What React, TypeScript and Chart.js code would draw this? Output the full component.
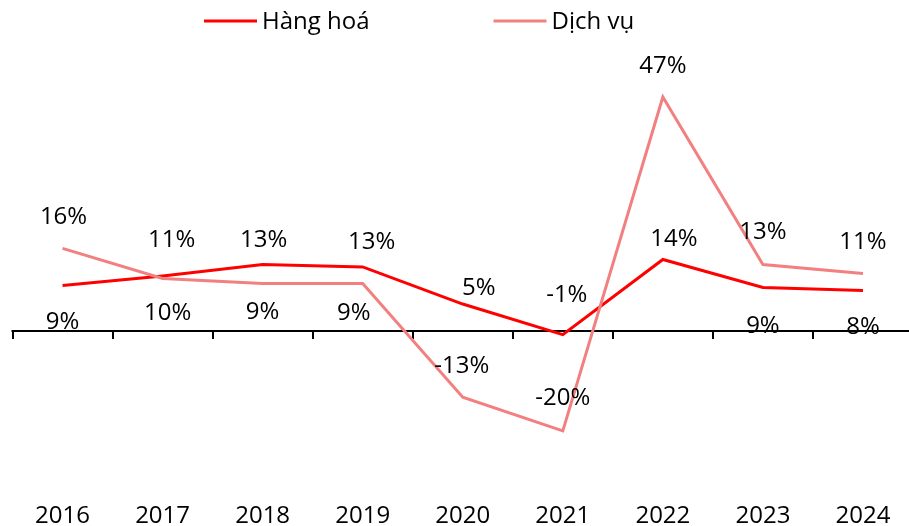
import React, { useEffect, useRef } from "react";
import { Chart, registerables } from "chart.js";

Chart.register(...registerables);

const categories = ["2016", "2017", "2018", "2019", "2020", "2021", "2022", "2023", "2024"];
const hangHoa = [9.0, 10.9, 13.2, 12.7, 5.3, -0.8, 14.2, 8.6, 8.0];
const dichVu = [16.4, 10.4, 9.4, 9.4, -13.3, -20.0, 46.6, 13.2, 11.4];
const seriesNames = ["Hàng hoá", "Dịch vụ"];

// label offsets (label centre relative to point), styling only
const hangHoaLabelDx = [0, 9, 1, 9, 16, 4, 11, 0, 0];
const hangHoaLabelDy = [35, -37, -26, -26, -18, -41, -22, 37, 35];
const dichVuLabelDx = [1, 5, 0, -9, -1, 0, 0, 0, 0];
const dichVuLabelDy = [-33, 33, 27, 28, -33, -34, -33, -34, -33];

const FONT = "'Open Sans', 'Noto Sans', sans-serif";
const RED = "#FF0000";
const PINK = "#F28080";

const zeroAxisPlugin = {
  id: "zeroAxis",
  beforeDatasetsDraw(chart: any) {
    const { ctx, scales, chartArea } = chart;
    const y0 = Math.round(scales.y.getPixelForValue(0));
    const xs = scales.x;
    const n = categories.length;
    const half = (xs.getPixelForValue(1) - xs.getPixelForValue(0)) / 2;
    ctx.save();
    ctx.strokeStyle = "#000";
    ctx.lineWidth = 2;
    ctx.beginPath();
    ctx.moveTo(chartArea.left - 1, y0);
    ctx.lineTo(chart.width, y0);
    ctx.stroke();
    for (let i = 0; i <= n; i++) {
      const x = Math.round(xs.getPixelForValue(0) - half + i * 2 * half);
      ctx.beginPath();
      ctx.moveTo(x, y0);
      ctx.lineTo(x, y0 + 8);
      ctx.stroke();
    }
    ctx.restore();
  },
};

const labelsPlugin = {
  id: "valueLabels",
  afterDatasetsDraw(chart: any) {
    const { ctx } = chart;
    const offsets = [
      [hangHoaLabelDx, hangHoaLabelDy],
      [dichVuLabelDx, dichVuLabelDy],
    ];
    ctx.save();
    ctx.font = `24px ${FONT}`;
    ctx.fillStyle = "#000";
    ctx.textAlign = "center";
    ctx.textBaseline = "alphabetic";
    chart.data.datasets.forEach((ds: any, di: number) => {
      const meta = chart.getDatasetMeta(di);
      meta.data.forEach((pt: any, i: number) => {
        const v = ds.data[i];
        const txt = `${Math.round(v)}%`;
        const x = pt.x + offsets[di][0][i];
        const y = pt.y + offsets[di][1][i] + 8.5;
        ctx.fillText(txt, x, y);
      });
    });
    ctx.restore();
  },
};

const legendPlugin = {
  id: "customLegend",
  afterDraw(chart: any) {
    const { ctx } = chart;
    ctx.save();
    ctx.font = `24px ${FONT}`;
    ctx.textBaseline = "alphabetic";
    ctx.textAlign = "left";
    let x = 204;
    const yLine = 21;
    chart.data.datasets.forEach((ds: any) => {
      ctx.strokeStyle = ds.borderColor;
      ctx.lineWidth = 3;
      ctx.beginPath();
      ctx.moveTo(x, yLine);
      ctx.lineTo(x + 53, yLine);
      ctx.stroke();
      ctx.fillStyle = "#000";
      const tx = x + 58;
      ctx.fillText(ds.label, tx, 29);
      x = tx + ctx.measureText(ds.label).width + 124;
    });
    ctx.restore();
  },
};

export default function App() {
  const canvasRef = useRef<HTMLCanvasElement | null>(null);

  useEffect(() => {
    if (!canvasRef.current) return;
    const chart = new Chart(canvasRef.current, {
      type: "line",
      data: {
        labels: categories,
        datasets: [
          {
            label: seriesNames[0],
            data: hangHoa,
            borderColor: RED,
            backgroundColor: RED,
            borderWidth: 3,
            pointRadius: 0,
            tension: 0,
            order: 1,
          },
          {
            label: seriesNames[1],
            data: dichVu,
            borderColor: PINK,
            backgroundColor: PINK,
            borderWidth: 3,
            pointRadius: 0,
            tension: 0,
            order: 0,
          },
        ],
      },
      options: {
        animation: false,
        responsive: false,
        maintainAspectRatio: false,
        layout: { padding: { left: 12.5, right: 0, top: 80, bottom: 0 } },
        plugins: {
          legend: { display: false },
          tooltip: { enabled: false },
        },
        scales: {
          x: {
            offset: true,
            grid: { display: false, drawTicks: false },
            border: { display: false },
            ticks: {
              color: "#000",
              padding: 20.6,
              font: { family: FONT, size: 24 },
              maxRotation: 0,
              autoSkip: false,
            },
          },
          y: {
            display: false,
            min: -30,
            max: 50,
          },
        },
      },
      plugins: [zeroAxisPlugin, labelsPlugin, legendPlugin],
    });
    return () => chart.destroy();
  }, []);

  return (
    <div
      style={{
        position: "absolute",
        left: 0,
        top: 0,
        width: 909,
        height: 526,
        overflow: "hidden",
        background: "#fff",
      }}
    >
      <canvas ref={canvasRef} width={913} height={551} style={{ display: "block" }} />
    </div>
  );
}
